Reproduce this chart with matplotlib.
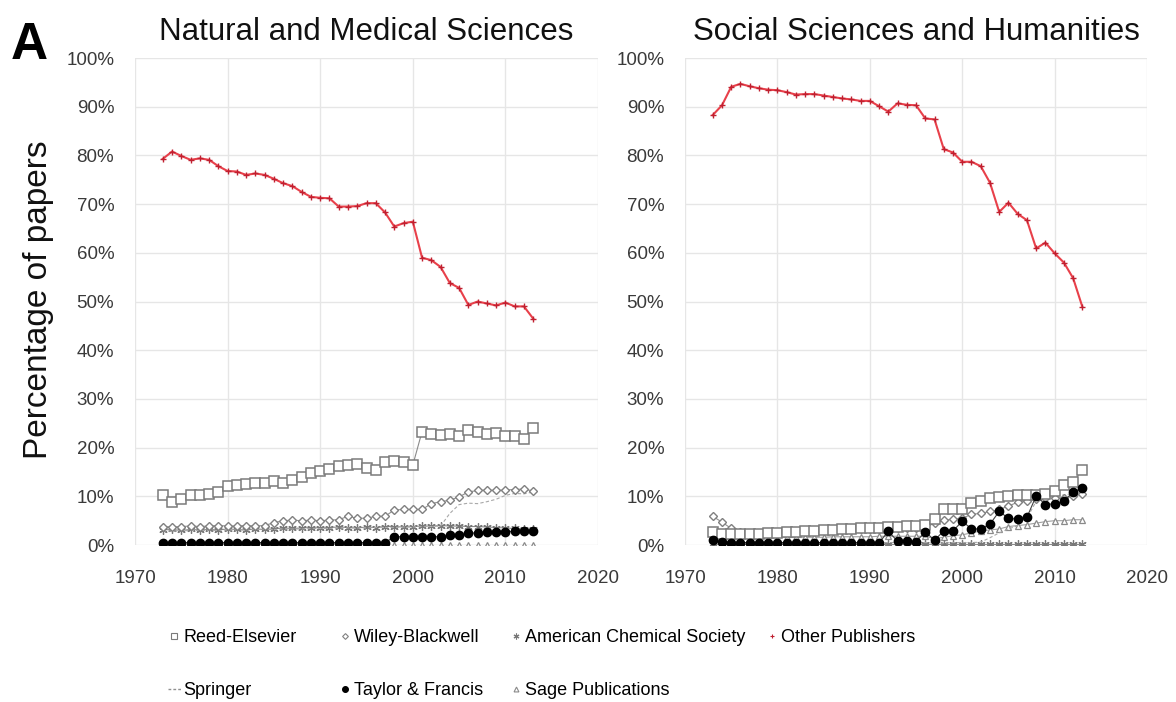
import numpy as np
import matplotlib
matplotlib.use('Agg')
import matplotlib.pyplot as plt
from matplotlib.lines import Line2D
from matplotlib.ticker import FuncFormatter

plt.rcParams['font.family'] = ['Liberation Sans', 'DejaVu Sans']

years = np.arange(1973, 2014)

# Natural and Medical Sciences (percent of papers)
reed_nat = [10.2, 8.9, 9.5, 10.2, 10.2, 10.5, 10.9, 12.2, 12.4, 12.5,
            12.7, 12.7, 13.2, 12.7, 13.3, 14.0, 14.7, 15.2, 15.6, 16.2,
            16.4, 16.6, 15.8, 15.4, 17.1, 17.2, 17.0, 16.4, 23.3, 22.9,
            22.6, 22.7, 22.4, 23.6, 23.3, 22.8, 23.0, 22.4, 22.4, 21.8, 24.1]
wiley_nat = [3.8, 3.7, 3.8, 3.9, 3.8, 3.9, 4.0, 3.9, 3.9, 4.0,
             3.9, 4.0, 4.6, 5.0, 5.1, 5.0, 5.1, 5.0, 5.1, 5.2,
             5.9, 5.5, 5.5, 5.9, 5.9, 7.2, 7.3, 7.3, 7.3, 8.5,
             8.9, 9.2, 9.9, 10.9, 11.2, 11.3, 11.2, 11.3, 11.4, 11.5, 11.1]
acs_nat = [3.1, 3.2, 3.0, 3.2, 3.1, 3.2, 3.1, 3.3, 3.2, 3.1,
           3.3, 3.2, 3.3, 3.5, 3.4, 3.5, 3.6, 3.5, 3.6, 3.7,
           3.6, 3.5, 3.7, 3.6, 3.8, 3.8, 3.7, 3.8, 3.9, 3.9,
           4.0, 3.9, 3.9, 3.8, 3.8, 3.7, 3.6, 3.5, 3.4, 3.3, 3.3]
other_nat = [79.3, 80.8, 79.9, 79.1, 79.4, 79.1, 77.8, 76.8, 76.7, 76.0,
             76.3, 76.0, 75.2, 74.3, 73.7, 72.5, 71.5, 71.3, 71.2, 69.5,
             69.5, 69.6, 70.2, 70.2, 68.3, 65.4, 66.1, 66.4, 59.0, 58.5,
             57.1, 53.8, 52.8, 49.3, 50.0, 49.6, 49.2, 49.8, 49.0, 49.0, 46.5]
springer_nat = [2.9, 2.9, 2.9, 3.0, 3.0, 3.0, 3.0, 3.1, 3.1, 3.1,
                3.2, 3.2, 3.2, 3.3, 3.3, 3.3, 3.4, 3.4, 3.4, 3.5,
                3.5, 3.5, 3.5, 3.6, 3.6, 3.6, 3.7, 3.7, 3.8, 3.8,
                3.9, 6.5, 8.3, 8.6, 8.5, 8.9, 9.4, 10.2, 10.6, 10.5, 10.9]
tf_nat = [0.5, 0.5, 0.5, 0.5, 0.5, 0.5, 0.5, 0.5, 0.5, 0.5,
          0.5, 0.5, 0.5, 0.5, 0.5, 0.5, 0.5, 0.5, 0.5, 0.5,
          0.5, 0.5, 0.5, 0.5, 0.5, 1.7, 1.7, 1.7, 1.7, 1.7,
          1.7, 2.0, 2.0, 2.4, 2.5, 2.6, 2.6, 2.7, 2.8, 2.9, 2.9]
sage_nat = [0.1, 0.1, 0.1, 0.1, 0.1, 0.1, 0.1, 0.1, 0.1, 0.1,
            0.1, 0.1, 0.1, 0.1, 0.1, 0.1, 0.1, 0.1, 0.1, 0.1,
            0.1, 0.1, 0.1, 0.1, 0.1, 0.1, 0.1, 0.1, 0.1, 0.1,
            0.1, 0.1, 0.1, 0.1, 0.1, 0.1, 0.1, 0.1, 0.1, 0.1, 0.1]

# Social Sciences and Humanities
reed_soc = [2.7, 2.3, 2.2, 2.2, 2.3, 2.3, 2.4, 2.5, 2.6, 2.7,
            2.8, 2.9, 3.0, 3.1, 3.2, 3.3, 3.4, 3.5, 3.6, 3.7,
            3.8, 3.9, 4.0, 4.2, 5.3, 7.5, 7.5, 7.3, 8.7, 9.1,
            9.6, 9.8, 10.0, 10.3, 10.3, 10.2, 10.5, 11.1, 12.3, 12.9, 15.5]
wiley_soc = [5.9, 4.7, 3.4, 2.6, 2.5, 2.5, 2.6, 2.6, 2.7, 2.8,
             2.8, 2.9, 3.0, 3.0, 3.1, 3.1, 3.2, 3.2, 3.3, 3.3,
             3.4, 3.4, 3.5, 3.6, 4.5, 5.1, 5.3, 5.5, 6.3, 6.5,
             6.9, 7.3, 8.0, 8.8, 9.0, 9.5, 9.6, 9.7, 9.7, 10.0, 10.5]
acs_soc = [0.2, 0.2, 0.2, 0.2, 0.2, 0.2, 0.2, 0.2, 0.2, 0.2,
           0.2, 0.2, 0.2, 0.2, 0.2, 0.2, 0.2, 0.2, 0.2, 0.2,
           0.2, 0.2, 0.2, 0.2, 0.2, 0.2, 0.2, 0.2, 0.2, 0.2,
           0.2, 0.2, 0.2, 0.2, 0.2, 0.2, 0.2, 0.2, 0.2, 0.2, 0.2]
other_soc = [88.3, 90.3, 94.1, 94.7, 94.2, 93.8, 93.5, 93.4, 93.0, 92.5,
             92.6, 92.6, 92.3, 92.0, 91.7, 91.5, 91.2, 91.2, 90.1, 89.0,
             90.7, 90.4, 90.3, 87.6, 87.4, 81.3, 80.6, 78.7, 78.7, 77.8,
             74.4, 68.4, 70.3, 68.0, 66.7, 60.9, 62.1, 59.9, 58.0, 54.8, 48.9]
springer_soc = [0.6, 0.6, 0.5, 0.5, 0.5, 0.5, 0.5, 0.5, 0.5, 0.5,
                0.5, 0.5, 0.5, 0.5, 0.5, 0.5, 0.5, 0.5, 0.5, 0.5,
                0.5, 0.5, 0.5, 0.5, 0.4, 0.4, 0.5, 0.5, 0.5, 0.6,
                1.5, 2.5, 3.3, 4.0, 5.5, 9.0, 9.8, 10.0, 10.3, 10.5, 11.0]
tf_soc = [1.0, 0.7, 0.5, 0.5, 0.5, 0.5, 0.5, 0.5, 0.5, 0.5,
          0.5, 0.5, 0.5, 0.5, 0.5, 0.5, 0.5, 0.5, 0.5, 2.8,
          0.8, 0.8, 0.7, 2.7, 1.0, 2.9, 2.9, 4.9, 3.3, 3.3,
          4.3, 6.9, 5.5, 5.3, 5.7, 10.1, 8.3, 8.5, 9.0, 10.9, 11.7]
sage_soc = [1.8, 1.6, 1.5, 1.5, 1.5, 1.5, 1.5, 1.5, 1.6, 1.6,
            1.6, 1.6, 1.6, 1.7, 1.7, 1.7, 1.7, 1.7, 1.8, 1.8,
            1.8, 1.8, 1.8, 1.8, 1.3, 1.6, 1.9, 2.1, 2.5, 2.9,
            3.1, 3.3, 3.8, 4.0, 4.2, 4.5, 4.8, 5.0, 5.0, 5.2, 5.2]

# style per publisher
styles = {
    'Reed-Elsevier': dict(marker='s', ms=6.5, mfc='white', mec='#7a7a7a', color='#8a8a8a', ls='-', mew=1.1),
    'Wiley-Blackwell': dict(marker='D', ms=4.2, mfc='white', mec='#808080', color='#909090', ls='-', mew=1.0),
    'American Chemical Society': dict(marker=(6, 2, 0), ms=6, mfc='none', mec='#787878', color='#8a8a8a', ls='-', mew=0.9),
    'Springer': dict(marker='', ms=0, mfc='none', mec='#a0a0a0', color='#a8a8a8', ls=(0, (3, 2)), mew=1),
    'Taylor & Francis': dict(marker='o', ms=6, mfc='black', mec='black', color='#404040', ls='-', mew=1),
    'Sage Publications': dict(marker='^', ms=5, mfc='white', mec='#8a8a8a', color='#a0a0a0', ls='-', mew=0.9),
    'Other Publishers': dict(marker='+', ms=4, mfc='none', mec='#c02030', color='#e8404a', ls='-', mew=1.0),
}

nat = {'Reed-Elsevier': reed_nat, 'Wiley-Blackwell': wiley_nat, 'American Chemical Society': acs_nat,
       'Springer': springer_nat, 'Taylor & Francis': tf_nat, 'Sage Publications': sage_nat,
       'Other Publishers': other_nat}
soc = {'Reed-Elsevier': reed_soc, 'Wiley-Blackwell': wiley_soc, 'American Chemical Society': acs_soc,
       'Springer': springer_soc, 'Taylor & Francis': tf_soc, 'Sage Publications': sage_soc,
       'Other Publishers': other_soc}
draw_order = ['Sage Publications', 'American Chemical Society', 'Springer', 'Wiley-Blackwell',
              'Reed-Elsevier', 'Taylor & Francis', 'Other Publishers']

fig = plt.figure(figsize=(11.76, 7.02), dpi=100)
ax1 = fig.add_axes([0.1148, 0.2236, 0.3937, 0.6937])
ax2 = fig.add_axes([0.5825, 0.2236, 0.3929, 0.6937])

for ax, data, title in [(ax1, nat, 'Natural and Medical Sciences'),
                        (ax2, soc, 'Social Sciences and Humanities')]:
    for name in draw_order:
        st = styles[name]
        lw = 1.5 if name == 'Other Publishers' else 0.8
        ax.plot(years, np.array(data[name]) / 100, marker=st['marker'], ms=st['ms'],
                mfc=st['mfc'], mec=st['mec'], mew=st['mew'], color=st['color'],
                ls=st['ls'], lw=lw, zorder=3)
    ax.set_xlim(1970, 2020)
    ax.set_ylim(0, 1)
    ax.set_xticks(range(1970, 2021, 10))
    ax.set_yticks(np.arange(0, 1.01, 0.1))
    ax.yaxis.set_major_formatter(FuncFormatter(lambda v, p: f'{v * 100:.0f}%'))
    ax.grid(True, color='#e6e6e6', lw=1)
    ax.set_axisbelow(True)
    for spine in ax.spines.values():
        spine.set_visible(False)
    ax.tick_params(length=0, labelsize=13.5, colors='#3a3a3a')
    ax.tick_params(axis='y', pad=15)
    ax.tick_params(axis='x', pad=18)
    ax.set_title(title, fontsize=22.5, pad=13, color='#111111')

fig.text(0.025, 0.935, 'A', fontsize=37, fontweight='bold', ha='center', va='center')
fig.text(0.033, 0.573, 'Percentage of papers', fontsize=24, rotation=90, ha='center', va='center',
         color='#111111')

# legend: one small legend per column, marker-only handles like the spreadsheet legend
def proxy(name):
    st = styles[name]
    if name == 'Springer':
        return Line2D([], [], color='#909090', ls=(0, (2, 1.5)), lw=1)
    return Line2D([], [], ls='none', marker=st['marker'], ms=st['ms'] * 0.7,
                  mfc=st['mfc'], mec=st['mec'], mew=0.8)

legend_cols = [['Reed-Elsevier', 'Springer'],
               ['Wiley-Blackwell', 'Taylor & Francis'],
               ['American Chemical Society', 'Sage Publications'],
               ['Other Publishers']]
col_x = [0.143, 0.288, 0.433, 0.651]
for names, x in zip(legend_cols, col_x):
    fig.legend([proxy(n) for n in names], names, loc='upper left', bbox_to_anchor=(x, 0.104),
               frameon=False, fontsize=13, handlelength=0.7, handletextpad=0.15,
               labelspacing=2.0, borderaxespad=0, borderpad=0)

fig.savefig('out.png', dpi=100, facecolor='white')
